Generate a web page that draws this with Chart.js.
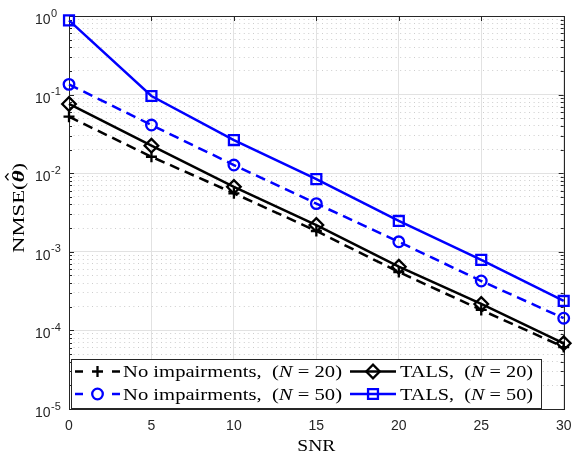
<!DOCTYPE html>
<html>
<head>
<meta charset="utf-8">
<script src="https://cdn.jsdelivr.net/npm/chart.js@4.4.0/dist/chart.umd.min.js"></script>
<style>
body { margin: 0; background: #fff; }
canvas { display: block; }
</style>
</head>
<body>
<canvas id="nmseChart" width="573" height="455"></canvas>
<script>
// values
var snr = [0, 5, 10, 15, 20, 25, 30];
var noImp20 = [0.0524, 0.0162, 0.00555, 0.00184, 0.000553, 0.000182, 0.0000614];
var noImp50 = [0.135, 0.041, 0.0127, 0.0041, 0.00134, 0.000425, 0.000143];
var tals20 = [0.076, 0.0224, 0.0067, 0.00219, 0.000646, 0.000217, 0.0000686];
var tals50 = [0.88, 0.096, 0.0264, 0.0084, 0.00247, 0.00079, 0.000237];

var xTicks = [0, 5, 10, 15, 20, 25, 30];
var yExponents = [-5, -4, -3, -2, -1, 0];
var legendNames = ['No impairments,', 'TALS,'];
var legendN = [20, 50];

var FRAME = '#262626';
var SERIF = '"Liberation Serif", "DejaVu Serif", serif';
var SANS = '"Liberation Sans", Arial, sans-serif';

// 1..9 x 10^k for every decade, plus the top decade
var yTickValues = [];
for (var k = yExponents[0]; k < yExponents[yExponents.length - 1]; k++) {
    for (var m = 1; m <= 9; m++) {
        yTickValues.push(m * Math.pow(10, k));
    }
}
yTickValues.push(Math.pow(10, yExponents[yExponents.length - 1]));

function isDecade(v) {
    var l = Math.log10(v);
    return Math.abs(l - Math.round(l)) < 1e-6;
}

function pts(ys) {
    return snr.map(function (s, i) { return {x: s, y: ys[i]}; });
}

function series(label, data, color, dash, style, radius) {
    return {
        label: label,
        data: pts(data),
        borderColor: color,
        borderWidth: 2.5,
        borderDash: dash,
        pointStyle: style,
        pointRadius: radius,
        pointBorderWidth: 2.3,
        pointBorderColor: color,
        pointBackgroundColor: 'rgba(0,0,0,0)',
        fill: false,
        tension: 0,
        clip: false
    };
}

var styles = [
    {color: '#000000', dash: [10, 6], style: 'cross', r: 5.5},
    {color: '#0000ff', dash: [10, 6], style: 'circle', r: 5.3},
    {color: '#000000', dash: [], style: 'rectRot', r: 6.8},
    {color: '#0000ff', dash: [], style: 'rect', r: 7}
];

// draw text runs in a row, stretched to a target width
function drawRuns(ctx, runs, x, y, targetWidth) {
    var total = 0;
    runs.forEach(function (r) {
        ctx.font = r.font;
        r.w = ctx.measureText(r.text).width;
        total += r.w;
    });
    var sx = targetWidth ? targetWidth / total : 1;
    ctx.save();
    ctx.translate(x, y);
    ctx.scale(sx, 1);
    var cx = 0;
    runs.forEach(function (r) {
        ctx.font = r.font;
        ctx.fillText(r.text, cx, 0);
        r.x = cx * sx;
        cx += r.w;
    });
    ctx.restore();
    return runs;
}

function marker(ctx, style, x, y, color) {
    ctx.save();
    ctx.strokeStyle = color;
    ctx.fillStyle = 'rgba(0,0,0,0)';
    ctx.setLineDash([]);
    ctx.lineWidth = 2.3;
    Chart.helpers.drawPoint(ctx, {pointStyle: style.style, radius: style.r, rotation: 0, borderWidth: 2.3}, x, y);
    ctx.restore();
}

var axesDecor = {
    id: 'axesDecor',
    beforeDatasetsDraw: function (chart) {
        var ctx = chart.ctx, a = chart.chartArea;
        var xs = chart.scales.x, ys = chart.scales.y;
        ctx.save();
        ctx.strokeStyle = FRAME;
        ctx.lineWidth = 1;
        ctx.beginPath();
        xTicks.forEach(function (v) {
            var px = Math.round(xs.getPixelForValue(v)) + 0.5;
            ctx.moveTo(px, a.bottom); ctx.lineTo(px, a.bottom - 5);
            ctx.moveTo(px, a.top); ctx.lineTo(px, a.top + 5);
        });
        yTickValues.forEach(function (v) {
            var py = Math.round(ys.getPixelForValue(v)) + 0.5;
            var len = isDecade(v) ? 5 : 3;
            ctx.moveTo(a.left, py); ctx.lineTo(a.left + len, py);
            ctx.moveTo(a.right, py); ctx.lineTo(a.right - len, py);
        });
        ctx.stroke();
        ctx.strokeRect(Math.round(a.left) + 0.5, Math.round(a.top) + 0.5,
            Math.round(a.right - a.left), Math.round(a.bottom - a.top));
        ctx.restore();
    },
    afterDatasetsDraw: function (chart) {
        var ctx = chart.ctx, a = chart.chartArea;
        var xs = chart.scales.x, ys = chart.scales.y;
        ctx.save();
        ctx.fillStyle = FRAME;

        // x tick labels
        ctx.font = '14px ' + SANS;
        ctx.textAlign = 'center';
        ctx.textBaseline = 'alphabetic';
        xTicks.forEach(function (v) {
            ctx.fillText(String(v), xs.getPixelForValue(v), a.bottom + 21);
        });

        // y tick labels 10^k
        ctx.textAlign = 'left';
        yExponents.forEach(function (e) {
            var py = ys.getPixelForValue(Math.pow(10, e));
            ctx.font = '14px ' + SANS;
            ctx.fillText('10', 35, py + 8);
            var w = ctx.measureText('10').width;
            ctx.font = '11px ' + SANS;
            ctx.fillText(String(e), 35 + w + 0.5, py + 0.5);
        });

        // axis titles
        ctx.fillStyle = '#000';
        ctx.textAlign = 'left';
        var snrRuns = [{text: 'SNR', font: '17px ' + SERIF}];
        ctx.save();
        ctx.font = snrRuns[0].font;
        drawRuns(ctx, snrRuns, (a.left + a.right) / 2 - 19, 451, 38);
        ctx.restore();

        ctx.save();
        ctx.translate(23.5, 253);
        ctx.rotate(-Math.PI / 2);
        var yRuns = drawRuns(ctx, [
            {text: 'NMSE(', font: '17px ' + SERIF},
            {text: 'θ', font: 'bold italic 17px ' + SERIF},
            {text: ')', font: '17px ' + SERIF}
        ], 0, 0, 90);
        // hat over theta
        var th = yRuns[1];
        var hx = th.x + 5.5;
        ctx.strokeStyle = '#000';
        ctx.lineWidth = 1.3;
        ctx.beginPath();
        ctx.moveTo(hx - 3.5, -15);
        ctx.lineTo(hx, -18);
        ctx.lineTo(hx + 3.5, -15);
        ctx.stroke();
        ctx.restore();

        // legend box
        var box = {l: 71, t: 359, r: 541, b: 408};
        ctx.fillStyle = '#fff';
        ctx.fillRect(box.l, box.t, box.r - box.l, box.b - box.t);
        ctx.strokeStyle = FRAME;
        ctx.lineWidth = 1;
        ctx.strokeRect(box.l + 0.5, box.t + 0.5, box.r - box.l, box.b - box.t);

        var rows = [371.5, 394];
        var cols = [{x0: 75, x1: 120, tx: 123, tw: 219}, {x0: 350, x1: 396, tx: 400, tw: 133}];
        for (var c = 0; c < 2; c++) {
            for (var r = 0; r < 2; r++) {
                var st = styles[c * 2 + r];
                var col = cols[c], y = rows[r];
                var mid = (col.x0 + col.x1) / 2;
                ctx.save();
                ctx.strokeStyle = st.color;
                ctx.lineWidth = 2.5;
                ctx.beginPath();
                if (st.dash.length) {
                    ctx.moveTo(col.x0, y); ctx.lineTo(col.x0 + 8, y);
                    ctx.moveTo(col.x1 - 8, y); ctx.lineTo(col.x1, y);
                } else {
                    ctx.moveTo(col.x0, y); ctx.lineTo(col.x1, y);
                }
                ctx.stroke();
                ctx.restore();
                marker(ctx, st, mid, y, st.color);

                ctx.fillStyle = '#000';
                drawRuns(ctx, [
                    {text: legendNames[c] + '  (', font: '17px ' + SERIF},
                    {text: 'N', font: 'italic 17px ' + SERIF},
                    {text: ' = ' + legendN[r] + ')', font: '17px ' + SERIF}
                ], col.tx, y + 5.5, col.tw);
            }
        }
        ctx.restore();
    }
};

var ctx = document.getElementById('nmseChart').getContext('2d');
var nmseChart = new Chart(ctx, {
    type: 'line',
    data: {
        datasets: [
            series('No impairments, (N = 20)', noImp20, styles[0].color, styles[0].dash, styles[0].style, styles[0].r),
            series('No impairments, (N = 50)', noImp50, styles[1].color, styles[1].dash, styles[1].style, styles[1].r),
            series('TALS, (N = 20)', tals20, styles[2].color, styles[2].dash, styles[2].style, styles[2].r),
            series('TALS, (N = 50)', tals50, styles[3].color, styles[3].dash, styles[3].style, styles[3].r)
        ]
    },
    options: {
        responsive: false,
        animation: false,
        events: [],
        layout: {padding: {left: 69, right: 8, top: 16, bottom: 46}},
        plugins: {
            legend: {display: false},
            tooltip: {enabled: false}
        },
        scales: {
            x: {
                type: 'linear',
                min: 0,
                max: 30,
                ticks: {display: false, stepSize: 5},
                afterBuildTicks: function (scale) {
                    scale.ticks = xTicks.map(function (v) { return {value: v}; });
                },
                grid: {color: '#e2e2e2', lineWidth: 1, drawTicks: false},
                border: {display: false}
            },
            y: {
                type: 'logarithmic',
                min: 1e-5,
                max: 1,
                ticks: {display: false},
                afterBuildTicks: function (scale) {
                    scale.ticks = yTickValues.map(function (v) { return {value: v}; });
                },
                grid: {
                    drawTicks: false,
                    lineWidth: 1,
                    color: function (c) {
                        return c.tick && !isDecade(c.tick.value) ? '#cdcdcd' : '#e2e2e2';
                    }
                },
                border: {
                    display: false,
                    dash: function (c) {
                        return c.tick && !isDecade(c.tick.value) ? [1, 3.6] : [];
                    }
                }
            }
        }
    },
    plugins: [axesDecor]
});
</script>
</body>
</html>
